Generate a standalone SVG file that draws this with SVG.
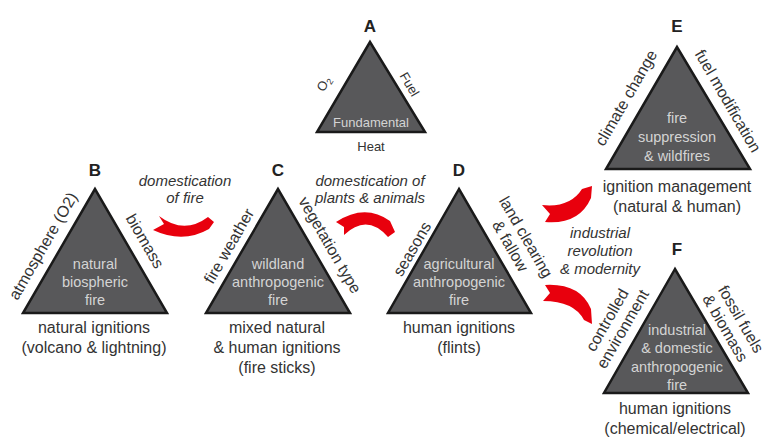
<svg xmlns="http://www.w3.org/2000/svg" width="767" height="437" viewBox="0 0 767 437">
<style>
.tri{fill:#58585a;stroke:#1a1a1a;stroke-width:2.5;stroke-linejoin:miter}
.t{font-family:"Liberation Sans",Arial,sans-serif;text-anchor:middle}
.in{fill:#d4d4d4;font-size:14.5px}
.lab{fill:#333;font-size:16px}
.side{fill:#333;font-size:16px}
.sm{fill:#333;font-size:13px}
.smin{fill:#d4d4d4;font-size:13px}
.ttl{fill:#222;font-size:17px;font-weight:bold}
.it{fill:#333;font-size:15px;font-style:italic}
.arr{fill:#e8000d}
</style>
<rect width="767" height="437" fill="#fff"/>
<g id="connectors">
<path class="arr" d="M159,216 Q184,235 208,217 L214,222 L209,229 Q183,244 153,230 L164,224 Z"/>
<path class="arr" d="M336,222 Q365,203 390,221 L395,232 L388,237 Q367,213 344,235 L344,227 Z"/>
<path class="arr" d="M542,205 Q570,208 582,189 L592,186 L591,198 Q579,225 545,222 L550,214 Z"/>
<path class="arr" d="M545,285 Q580,283 591,309 L592,324 L584,320 Q574,301 543,301 L550,293 Z"/>
<g id="arrow-labels">
<text class="t it" x="185" y="186">domestication</text>
<text class="t it" x="185" y="203">of fire</text>
<text class="t it" x="370" y="186">domestication of</text>
<text class="t it" x="370" y="203">plants &amp; animals</text>
<text class="t it" x="600" y="238">industrial</text>
<text class="t it" x="600" y="256">revolution</text>
<text class="t it" x="600" y="274">&amp; modernity</text>
</g>
</g>
<g id="A">
<polygon class="tri" points="370,42 317,132 425,132"/>
<text class="t ttl" x="370" y="32">A</text>
<text class="t smin" x="371" y="127">Fundamental</text>
<text class="t sm" x="371" y="151">Heat</text>
<text class="t sm" transform="translate(324,84) rotate(-60)" y="4">O<tspan font-size="9" dy="3">2</tspan></text>
<text class="t sm" transform="translate(410,84) rotate(60)" y="5">Fuel</text>
</g>
<g id="B">
<polygon class="tri" points="95,189 23,313 167,313"/>
<text class="t ttl" x="95" y="176">B</text>
<text class="t in" x="95" y="269">natural</text>
<text class="t in" x="95" y="287">biospheric</text>
<text class="t in" x="95" y="305">fire</text>
<text class="t side" transform="translate(43,246) rotate(-60)" y="5.5">atmosphere (O2)</text>
<text class="t side" transform="translate(145,241) rotate(60)" y="5.5">biomass</text>
<text class="t lab" x="94" y="333">natural ignitions</text>
<text class="t lab" x="94" y="353">(volcano &amp; lightning)</text>
</g>
<g id="C">
<polygon class="tri" points="278,189 206,313 350,313"/>
<text class="t ttl" x="278" y="176">C</text>
<text class="t in" x="278" y="269">wildland</text>
<text class="t in" x="278" y="287">anthropogenic</text>
<text class="t in" x="278" y="305">fire</text>
<text class="t side" transform="translate(229,246) rotate(-60)" y="5.5">fire weather</text>
<text class="t side" transform="translate(330,245) rotate(60)" y="5.5">vegetation type</text>
<text class="t lab" x="277" y="333">mixed natural</text>
<text class="t lab" x="277" y="353">&amp; human ignitions</text>
<text class="t lab" x="277" y="373">(fire sticks)</text>
</g>
<g id="D">
<polygon class="tri" points="459,189 388,313 531,313"/>
<text class="t ttl" x="459" y="176">D</text>
<text class="t in" x="459" y="269">agricultural</text>
<text class="t in" x="459" y="287">anthropogenic</text>
<text class="t in" x="459" y="305">fire</text>
<text class="t side" transform="translate(412,249) rotate(-60)" y="5.5">seasons</text>
<text class="t side" transform="translate(526,237) rotate(60)"><tspan x="0" y="5.5">land clearing</tspan><tspan x="0" dy="18">&amp; fallow</tspan></text>
<text class="t lab" x="459" y="333">human ignitions</text>
<text class="t lab" x="459" y="353">(flints)</text>
</g>
<g id="E">
<polygon class="tri" points="677,47 606,169 750,169"/>
<text class="t ttl" x="677" y="32">E</text>
<text class="t in" x="677" y="123">fire</text>
<text class="t in" x="677" y="142">suppression</text>
<text class="t in" x="677" y="161">&amp; wildfires</text>
<text class="t side" transform="translate(626,98) rotate(-60)" y="5.5">climate change</text>
<text class="t side" transform="translate(728,101) rotate(60)" y="5.5">fuel modification</text>
<text class="t lab" x="677" y="192">ignition management</text>
<text class="t lab" x="677" y="212">(natural &amp; human)</text>
</g>
<g id="F">
<polygon class="tri" points="675,269 604,393 748,393"/>
<text class="t ttl" x="677" y="255">F</text>
<text class="t in" x="677" y="335">industrial</text>
<text class="t in" x="677" y="353">&amp; domestic</text>
<text class="t in" x="677" y="372">anthropogenic</text>
<text class="t in" x="677" y="390">fire</text>
<text class="t side" transform="translate(607,320) rotate(-60)"><tspan x="0" y="5.5">controlled</tspan><tspan x="0" dy="18">environment</tspan></text>
<text class="t side" transform="translate(741,319) rotate(60)"><tspan x="0" y="5.5">fossil fuels</tspan><tspan x="0" dy="18">&amp; biomass</tspan></text>
<text class="t lab" x="675" y="414">human ignitions</text>
<text class="t lab" x="675" y="434">(chemical/electrical)</text>
</g>
</svg>
